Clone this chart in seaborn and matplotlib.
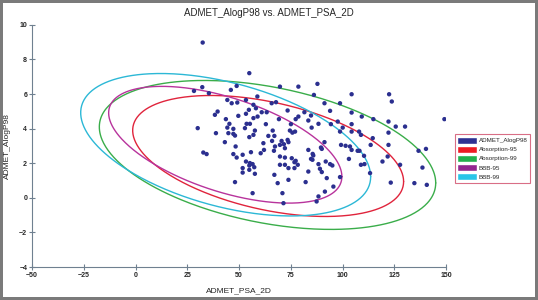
import numpy as np
import pandas as pd
import seaborn as sns
import matplotlib.pyplot as plt
from matplotlib.patches import Patch

sns.set_theme(style='white')
plt.rcParams['font.family'] = ['Liberation Sans', 'DejaVu Sans']

# ADMET_PSA_2D / ADMET_AlogP98 degerleri
psa = [32.4, 54.9, 32.2, 28.2, 35.4, 46.0, 48.8, 58.8, 44.3, 46.4, 49.1, 53.3, 56.9, 58.1,
       65.7, 67.8, 39.6, 38.3, 54.7, 60.9, 63.3, 49.6, 53.3, 58.9, 56.9, 43.6, 45.3, 53.6,
       55.2, 62.9, 30.0, 44.3, 47.2, 52.8, 57.6, 66.2, 38.8, 44.8, 47.2, 56.9, 54.9, 64.1,
       87.8, 78.6, 69.7, 86.1, 104.3, 91.2, 98.7, 73.4, 81.5, 93.9, 104.3, 78.6, 84.7, 69.2,
       83.4, 77.3, 97.6, 88.3, 94.3, 104.3, 75.0, 85.0, 100.0, 74.5, 75.7, 77.0, 98.7, 104.3,
       107.9, 67.0, 43.1, 48.0, 61.7, 65.9, 48.3, 32.7, 34.3, 47.2, 48.8, 51.7, 55.7, 60.4,
       62.0, 66.8, 53.3, 55.2, 56.5, 54.9, 57.3, 51.7, 54.9, 51.7, 57.6, 67.0, 48.0, 56.5,
       70.5, 73.4, 73.8, 67.3, 69.7, 71.6, 72.1, 91.2, 89.5, 89.9, 99.2, 101.4, 103.5, 104.3,
       107.2, 83.4, 85.5, 85.8, 69.7, 72.1, 75.4, 77.3, 76.7, 84.7, 85.4, 91.8, 93.9, 95.0,
       88.3, 103.0, 69.7, 72.1, 73.8, 76.7, 78.3, 83.4, 89.0, 89.9, 73.8, 82.1, 92.3, 98.7,
       68.6, 70.9, 91.4, 88.3, 87.4, 71.4, 122.4, 123.7, 149.1, 125.6, 130.1, 122.1, 114.5,
       108.8, 113.5, 122.1, 136.6, 140.2, 119.2, 121.7, 127.7, 138.5, 113.2, 123.2, 134.6,
       140.6, 110.5, 108.8, 108.1, 110.3, 95.5, 109.2, 114.8, 122.1]
alogp = [8.98, 7.21, 6.40, 6.18, 6.05, 6.24, 6.47, 5.86, 5.66, 5.47, 5.51, 5.66, 5.38, 5.18,
         5.47, 5.53, 4.99, 4.80, 5.09, 4.95, 4.95, 4.74, 4.86, 4.70, 4.61, 4.55, 4.28, 4.28,
         4.28, 4.26, 4.03, 4.06, 3.99, 4.03, 3.89, 3.89, 3.74, 3.74, 3.70, 3.64, 3.51, 3.58,
         6.59, 6.43, 6.43, 5.95, 5.99, 5.47, 5.47, 5.05, 4.95, 5.03, 4.93, 4.70, 4.76, 4.55,
         4.47, 4.55, 4.41, 4.28, 4.26, 4.26, 4.26, 4.06, 4.06, 3.89, 3.77, 3.83, 3.83, 3.83,
         3.83, 3.58, 3.22, 3.60, 3.16, 3.29, 2.97, 2.62, 2.53, 2.53, 2.33, 2.49, 2.64, 2.58,
         2.77, 2.72, 2.10, 2.01, 1.95, 1.87, 1.77, 1.72, 1.62, 1.46, 1.39, 1.33, 0.91, 0.27,
         3.29, 3.35, 3.22, 2.97, 3.06, 3.10, 2.87, 3.22, 2.91, 2.83, 3.06, 3.01, 2.97, 2.77,
         2.72, 2.77, 2.54, 2.45, 2.39, 2.33, 2.29, 2.14, 2.06, 2.25, 2.20, 2.10, 1.95, 1.87,
         1.95, 2.25, 1.91, 1.91, 1.72, 1.72, 1.91, 1.52, 1.68, 1.49, 1.04, 0.91, 1.14, 1.20,
         0.85, 0.27, 0.36, 0.08, -0.21, -0.31, 5.99, 5.57, 4.55, 4.12, 4.12, 3.77, 3.45,
         3.64, 3.06, 3.06, 2.72, 2.83, 2.10, 2.39, 1.91, 1.75, 1.43, 0.88, 0.85,
         0.75, 1.95, 1.91, 2.72, 2.43, 0.65, 4.70, 4.55, 4.41]

# Elips parametreleri: merkez (x, y), yatay yari eksen, dikey yari eksen, egim
ellipse_names = ['Absorption-95', 'Absorption-99', 'BBB-95', 'BBB-99']
ellipse_cx = [64.0, 63.7, 43.3, 43.5]
ellipse_cy = [2.42, 2.48, 3.07, 3.07]
ellipse_a = [65.4, 81.2, 56.3, 70.0]
ellipse_b = [3.17, 3.99, 2.83, 3.68]
ellipse_c = [-1.48, -1.62, -1.84, -1.85]
ellipse_colors = ['#e0243c', '#3aad4a', '#b8339c', '#2cb8d6']

point_color = '#2b2f8f'

df = pd.DataFrame({'ADMET_PSA_2D': psa, 'ADMET_AlogP98': alogp})

fig = plt.figure(figsize=(5.38, 3.0), dpi=100)
ax = fig.add_axes([0.0595, 0.11, 0.77, 0.807])

t = np.linspace(0, 2 * np.pi, 400)
for name, cx, cy, a, b, c, col in zip(ellipse_names, ellipse_cx, ellipse_cy, ellipse_a,
                                        ellipse_b, ellipse_c, ellipse_colors):
    ex = cx + a * np.cos(t)
    ey = cy + b * np.sin(t) + c * np.cos(t)
    ax.plot(ex, ey, color=col, lw=1.0)

sns.scatterplot(data=df, x='ADMET_PSA_2D', y='ADMET_AlogP98', color=point_color,
                s=10, edgecolor='none', ax=ax, zorder=3)

ax.set_xlim(-50, 150)
ax.set_ylim(-4, 10)
ax.set_xticks(range(-50, 151, 25))
ax.set_yticks(range(-4, 11, 2))
sns.despine(ax=ax)
for s in ['left', 'bottom']:
    ax.spines[s].set_color('#6f8090')
    ax.spines[s].set_linewidth(0.8)
ax.tick_params(axis='both', direction='inout', length=4, width=0.8, color='#6f8090',
               labelsize=5, pad=1.5, left=True, bottom=True)
for lab in ax.get_xticklabels() + ax.get_yticklabels():
    lab.set_fontweight('bold')
ax.set_xlabel('ADMET_PSA_2D', fontsize=6, labelpad=6)
ax.set_ylabel('ADMET_AlogP98', fontsize=6, labelpad=6)
fig.suptitle('ADMET_AlogP98 vs. ADMET_PSA_2D', fontsize=7, y=0.975)

handles = [Patch(facecolor='#2e3192', label='ADMET_AlogP98'),
           Patch(facecolor='#ed1c24', label='Absorption-95'),
           Patch(facecolor='#22b14c', label='Absorption-99'),
           Patch(facecolor='#92278f', label='BBB-95'),
           Patch(facecolor='#29c5e8', label='BBB-99')]
leg = fig.legend(handles=handles, loc='upper left', bbox_to_anchor=(0.845, 0.553),
                 fontsize=4.5, frameon=True, fancybox=False, handlelength=3.2,
                 handleheight=1.4, handletextpad=0.3, labelspacing=0.3,
                 borderpad=0.4, borderaxespad=0)
leg.get_frame().set_edgecolor('#d04a68')
leg.get_frame().set_linewidth(0.8)

fig.patch.set_edgecolor('#7a7a7a')
fig.patch.set_linewidth(3)
fig.savefig('out.png', dpi=100, edgecolor=fig.get_edgecolor())
